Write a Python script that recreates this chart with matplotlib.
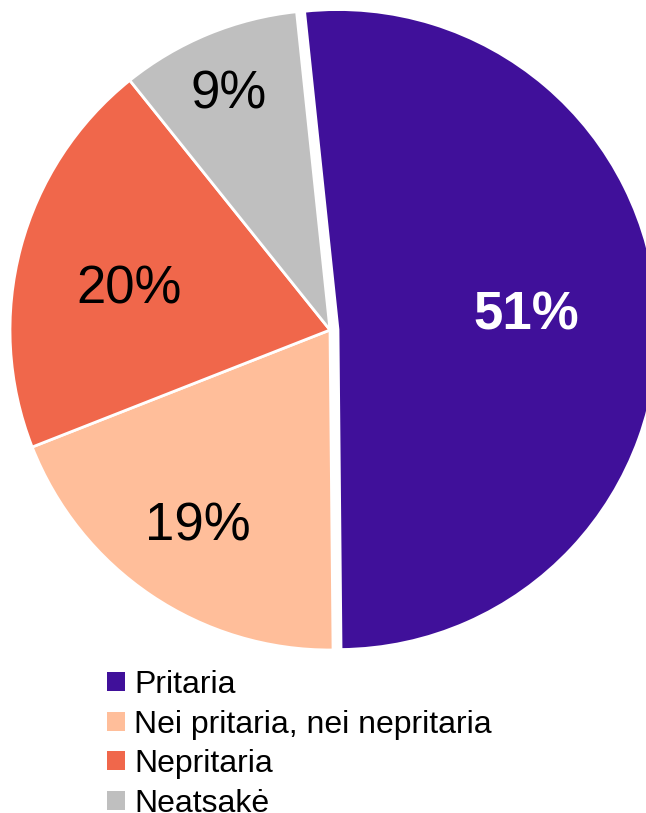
import matplotlib
matplotlib.use("Agg")
import matplotlib.pyplot as plt
from matplotlib.patches import Patch
import numpy as np

categories = ["Pritaria", "Nei pritaria, nei nepritaria", "Nepritaria", "Neatsakė"]
values = [51, 19, 20, 9]
labels = ["51%", "19%", "20%", "9%"]
colors = ["#40109A", "#FFBE9A", "#F0674B", "#BFBFBF"]

plt.rcParams['font.family'] = ['Liberation Sans', 'DejaVu Sans']

W, H = 646, 813
fig = plt.figure(figsize=(W / 100, H / 100), dpi=100)
ax = fig.add_axes([10 / W, (H - 650) / H, 640 / W, 640 / H])

explode = [0.025, 0, 0, 0]
wedges, _ = ax.pie(values, colors=colors, startangle=96, counterclock=False,
                   explode=explode, wedgeprops=dict(edgecolor="white", linewidth=2))
ax.set_xlim(-1, 1)
ax.set_ylim(-1, 1)
ax.set_aspect('equal')
ax.axis('off')

dists = [0.59, 0.74, 0.64, 0.80]
angle_off = [1.0, 0.0, 3.5, 1.0]
for w, lab, d, a, i in zip(wedges, labels, dists, angle_off, range(4)):
    th = np.deg2rad((w.theta1 + w.theta2) / 2 + a)
    cx, cy = w.center
    x = cx + d * np.cos(th)
    y = cy + d * np.sin(th)
    if i == 0:
        ax.text(x, y, lab, ha='center', va='center', fontsize=38, color='white', fontweight='bold')
    else:
        ax.text(x, y, lab, ha='center', va='center', fontsize=38, color='black')

handles = [Patch(facecolor=c, edgecolor='none') for c in colors]
fig.legend(handles, categories, loc='upper left', bbox_to_anchor=(107 / W, 1 - 670 / H),
           frameon=False, fontsize=23, handlelength=0.55, handleheight=0.55,
           handletextpad=0.3, labelspacing=0.3, borderpad=0, borderaxespad=0)

fig.savefig("out.png", dpi=100)
